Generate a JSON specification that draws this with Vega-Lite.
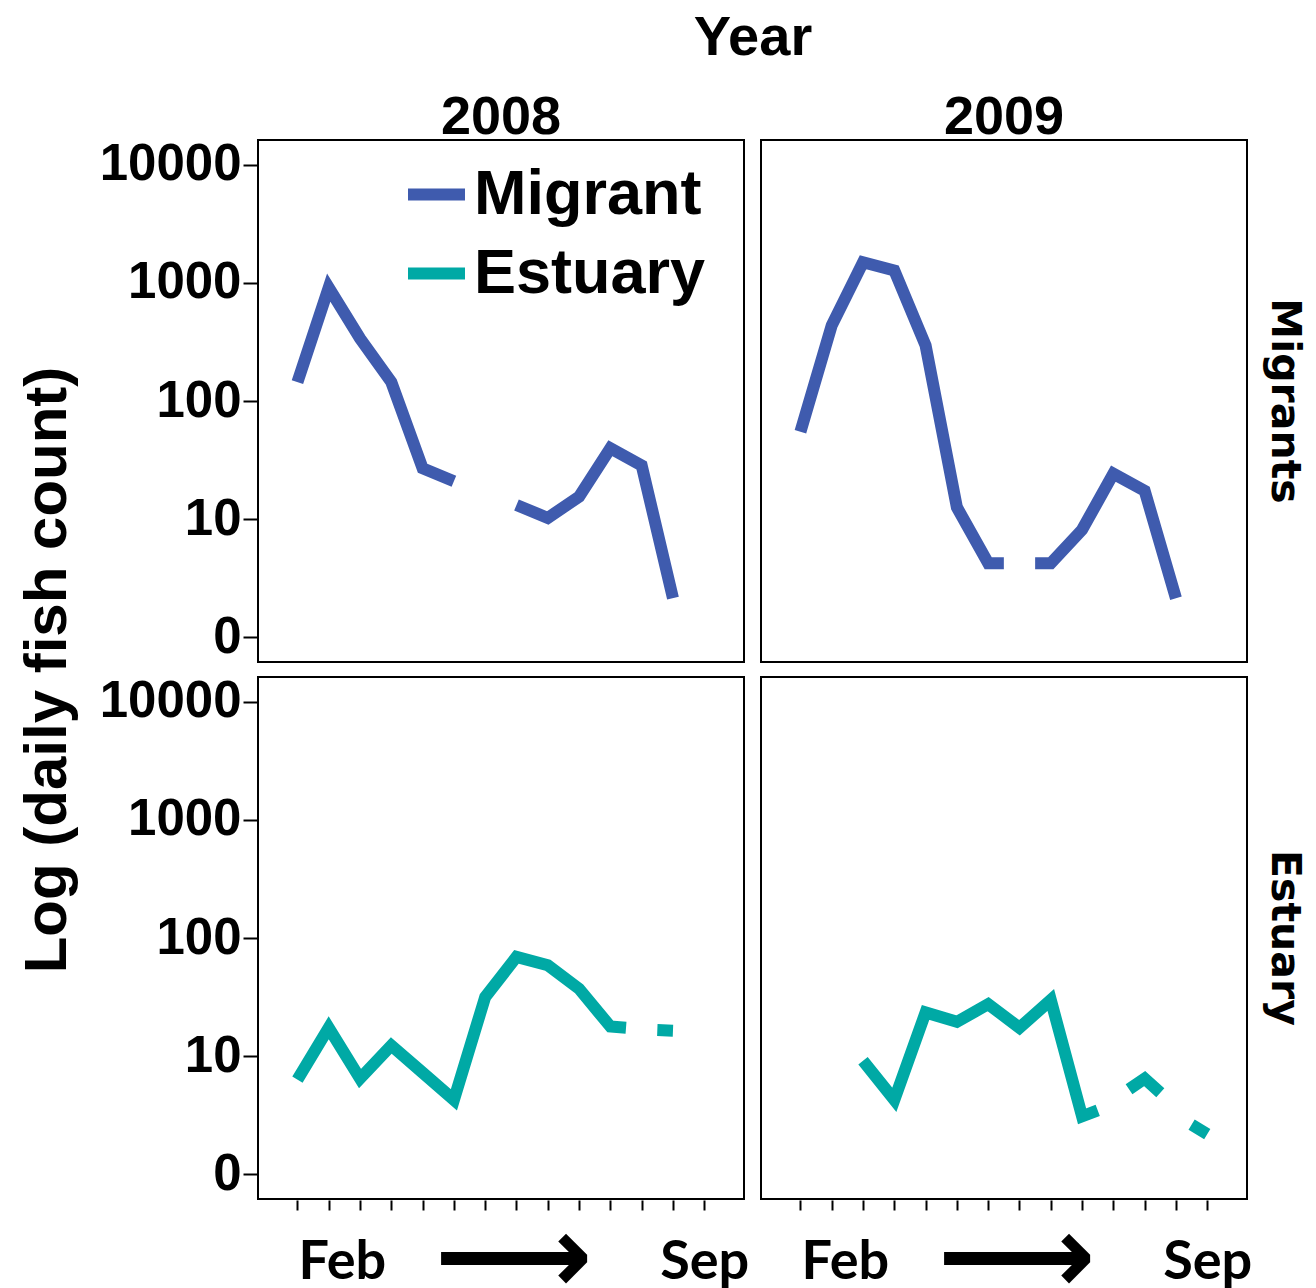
{
  "$schema": "https://vega.github.io/schema/vega-lite/v6.json",
  "padding": {"left": 17, "top": 10, "right": 0, "bottom": 5},
  "background": "white",
  "data": {"values": [
    {"year": "2008", "panel": "Migrants", "series": "Migrant", "t": 1, "v": 2.16},
    {"year": "2008", "panel": "Migrants", "series": "Migrant", "t": 2, "v": 2.96},
    {"year": "2008", "panel": "Migrants", "series": "Migrant", "t": 3, "v": 2.53},
    {"year": "2008", "panel": "Migrants", "series": "Migrant", "t": 4, "v": 2.16},
    {"year": "2008", "panel": "Migrants", "series": "Migrant", "t": 5, "v": 1.43},
    {"year": "2008", "panel": "Migrants", "series": "Migrant", "t": 6, "v": 1.32},
    {"year": "2008", "panel": "Migrants", "series": "Migrant", "t": 7, "v": null},
    {"year": "2008", "panel": "Migrants", "series": "Migrant", "t": 8, "v": 1.12},
    {"year": "2008", "panel": "Migrants", "series": "Migrant", "t": 9, "v": 1.01},
    {"year": "2008", "panel": "Migrants", "series": "Migrant", "t": 10, "v": 1.19},
    {"year": "2008", "panel": "Migrants", "series": "Migrant", "t": 11, "v": 1.60},
    {"year": "2008", "panel": "Migrants", "series": "Migrant", "t": 12, "v": 1.455},
    {"year": "2008", "panel": "Migrants", "series": "Migrant", "t": 13, "v": 0.33},
    {"year": "2009", "panel": "Migrants", "series": "Migrant", "t": 1, "v": 1.74},
    {"year": "2009", "panel": "Migrants", "series": "Migrant", "t": 2, "v": 2.64},
    {"year": "2009", "panel": "Migrants", "series": "Migrant", "t": 3, "v": 3.175},
    {"year": "2009", "panel": "Migrants", "series": "Migrant", "t": 4, "v": 3.105},
    {"year": "2009", "panel": "Migrants", "series": "Migrant", "t": 5, "v": 2.47},
    {"year": "2009", "panel": "Migrants", "series": "Migrant", "t": 6, "v": 1.10},
    {"year": "2009", "panel": "Migrants", "series": "Migrant", "t": 7, "v": 0.626},
    {"year": "2009", "panel": "Migrants", "series": "Migrant", "t": 7.5, "v": 0.626},
    {"year": "2009", "panel": "Migrants", "series": "Migrant", "t": 8, "v": null},
    {"year": "2009", "panel": "Migrants", "series": "Migrant", "t": 8.5, "v": 0.626},
    {"year": "2009", "panel": "Migrants", "series": "Migrant", "t": 9, "v": 0.626},
    {"year": "2009", "panel": "Migrants", "series": "Migrant", "t": 10, "v": 0.91},
    {"year": "2009", "panel": "Migrants", "series": "Migrant", "t": 11, "v": 1.385},
    {"year": "2009", "panel": "Migrants", "series": "Migrant", "t": 12, "v": 1.24},
    {"year": "2009", "panel": "Migrants", "series": "Migrant", "t": 13, "v": 0.33},
    {"year": "2008", "panel": "Estuary", "series": "Estuary", "t": 1, "v": 0.80},
    {"year": "2008", "panel": "Estuary", "series": "Estuary", "t": 2, "v": 1.24},
    {"year": "2008", "panel": "Estuary", "series": "Estuary", "t": 3, "v": 0.81},
    {"year": "2008", "panel": "Estuary", "series": "Estuary", "t": 4, "v": 1.09},
    {"year": "2008", "panel": "Estuary", "series": "Estuary", "t": 5, "v": 0.86},
    {"year": "2008", "panel": "Estuary", "series": "Estuary", "t": 6, "v": 0.63},
    {"year": "2008", "panel": "Estuary", "series": "Estuary", "t": 7, "v": 1.50},
    {"year": "2008", "panel": "Estuary", "series": "Estuary", "t": 8, "v": 1.84},
    {"year": "2008", "panel": "Estuary", "series": "Estuary", "t": 9, "v": 1.77},
    {"year": "2008", "panel": "Estuary", "series": "Estuary", "t": 10, "v": 1.57},
    {"year": "2008", "panel": "Estuary", "series": "Estuary", "t": 11, "v": 1.25},
    {"year": "2008", "panel": "Estuary", "series": "Estuary", "t": 11.5, "v": 1.24},
    {"year": "2008", "panel": "Estuary", "series": "Estuary", "t": 12, "v": null},
    {"year": "2008", "panel": "Estuary", "series": "Estuary", "t": 12.5, "v": 1.22},
    {"year": "2008", "panel": "Estuary", "series": "Estuary", "t": 13, "v": 1.215},
    {"year": "2009", "panel": "Estuary", "series": "Estuary", "t": 3, "v": 0.96},
    {"year": "2009", "panel": "Estuary", "series": "Estuary", "t": 4, "v": 0.63},
    {"year": "2009", "panel": "Estuary", "series": "Estuary", "t": 5, "v": 1.37},
    {"year": "2009", "panel": "Estuary", "series": "Estuary", "t": 6, "v": 1.29},
    {"year": "2009", "panel": "Estuary", "series": "Estuary", "t": 7, "v": 1.44},
    {"year": "2009", "panel": "Estuary", "series": "Estuary", "t": 8, "v": 1.24},
    {"year": "2009", "panel": "Estuary", "series": "Estuary", "t": 9, "v": 1.475},
    {"year": "2009", "panel": "Estuary", "series": "Estuary", "t": 10, "v": 0.49},
    {"year": "2009", "panel": "Estuary", "series": "Estuary", "t": 10.5, "v": 0.54},
    {"year": "2009", "panel": "Estuary", "series": "Estuary", "t": 11, "v": null},
    {"year": "2009", "panel": "Estuary", "series": "Estuary", "t": 11.5, "v": 0.72},
    {"year": "2009", "panel": "Estuary", "series": "Estuary", "t": 12, "v": 0.81},
    {"year": "2009", "panel": "Estuary", "series": "Estuary", "t": 12.5, "v": 0.69},
    {"year": "2009", "panel": "Estuary", "series": "Estuary", "t": 13, "v": null},
    {"year": "2009", "panel": "Estuary", "series": "Estuary", "t": 13.5, "v": 0.42},
    {"year": "2009", "panel": "Estuary", "series": "Estuary", "t": 14, "v": 0.34}
  ]},
  "facet": {
    "column": {"field": "year", "type": "nominal", "header": {"title": "Year", "titleFont": "Liberation Sans", "titleFontWeight": "bold", "titleFontSize": 56, "titleColor": "black", "titleBaseline": "alphabetic", "titlePadding": -30, "labelFont": "Liberation Sans", "labelFontWeight": "bold", "labelFontSize": 54, "labelColor": "black", "labelBaseline": "alphabetic", "labelPadding": -49}},
    "row": {"field": "panel", "type": "nominal", "sort": ["Migrants", "Estuary"], "header": {"title": "Log (daily fish count)", "titleOrient": "left", "titleFont": "Liberation Sans", "titleFontSize": 60, "titleFontWeight": "bold", "titleColor": "black", "titlePadding": 10, "labelOrient": "right", "labelAngle": 90, "labelFont": "DejaVu Sans", "labelFontWeight": "bold", "labelFontSize": 41, "labelColor": "black", "labelPadding": 15}}
  },
  "spacing": {"row": 13, "column": 15},
  "spec": {
    "width": 486,
    "height": 522,
    "mark": {"type": "line", "strokeWidth": 12, "strokeCap": "butt", "strokeJoin": "miter"},
    "encoding": {
      "x": {"field": "t", "type": "quantitative", "scale": {"domain": [-0.26, 15.27], "nice": false, "zero": false},
        "axis": {
          "title": null, "grid": false, "domain": false,
          "values": [1, 2, 3, 4, 5, 6, 7, 8, 9, 10, 11, 12, 13, 14, 2.42, 7.9],
          "labelExpr": "datum.value == 14 ? 'Sep' : abs(datum.value - 2.42) < 0.01 ? 'Feb' : abs(datum.value - 7.9) < 0.01 ? '⟶' : ''",
          "tickOpacity": {"condition": {"test": "datum.value == round(datum.value)", "value": 1}, "value": 0},
          "tickSize": 10, "tickWidth": 2, "tickColor": "black",
          "labelFont": {"condition": {"test": "abs(datum.value - 7.9) < 0.01", "value": "DejaVu Sans"}, "value": "Lato"},
          "labelFontSize": {"condition": {"test": "abs(datum.value - 7.9) < 0.01", "value": 110}, "value": 54},
          "labelFontWeight": "bold", "labelColor": "black",
          "labelBaseline": {"condition": {"test": "abs(datum.value - 7.9) < 0.01", "value": "middle"}, "value": "alphabetic"},
          "labelPadding": {"condition": {"test": "abs(datum.value - 7.9) < 0.01", "value": 49}, "value": 68},
          "labelOverlap": false, "labelFlush": false, "labelBound": false, "labelLimit": 400
        }
      },
      "y": {"field": "v", "type": "quantitative", "scale": {"domain": [-0.21, 4.21], "nice": false, "zero": false},
        "axis": {
          "values": [0, 1, 2, 3, 4],
          "labelExpr": "datum.value == 0 ? '0' : format(pow(10, datum.value), 'd')",
          "grid": false, "domain": false,
          "tickSize": 14, "tickWidth": 2, "tickColor": "black",
          "labelFont": "Liberation Sans", "labelFontSize": 51, "labelFontWeight": "bold", "labelColor": "black", "labelPadding": 2,
          "title": null
        }
      },
      "color": {"field": "series", "type": "nominal", "scale": {"domain": ["Migrant", "Estuary"], "range": ["#3f5bae", "#00a9a5"]},
        "legend": {"orient": "none", "legendX": 144, "legendY": 20, "title": null, "symbolType": "stroke", "symbolSize": 3249, "symbolStrokeWidth": 12, "labelFont": "Liberation Sans", "labelFontSize": 63, "labelFontWeight": "bold", "labelColor": "black", "labelOffset": 3, "labelLimit": 500, "rowPadding": 12}
      }
    }
  },
  "config": {
    "view": {"stroke": "black", "strokeWidth": 2}
  }
}
